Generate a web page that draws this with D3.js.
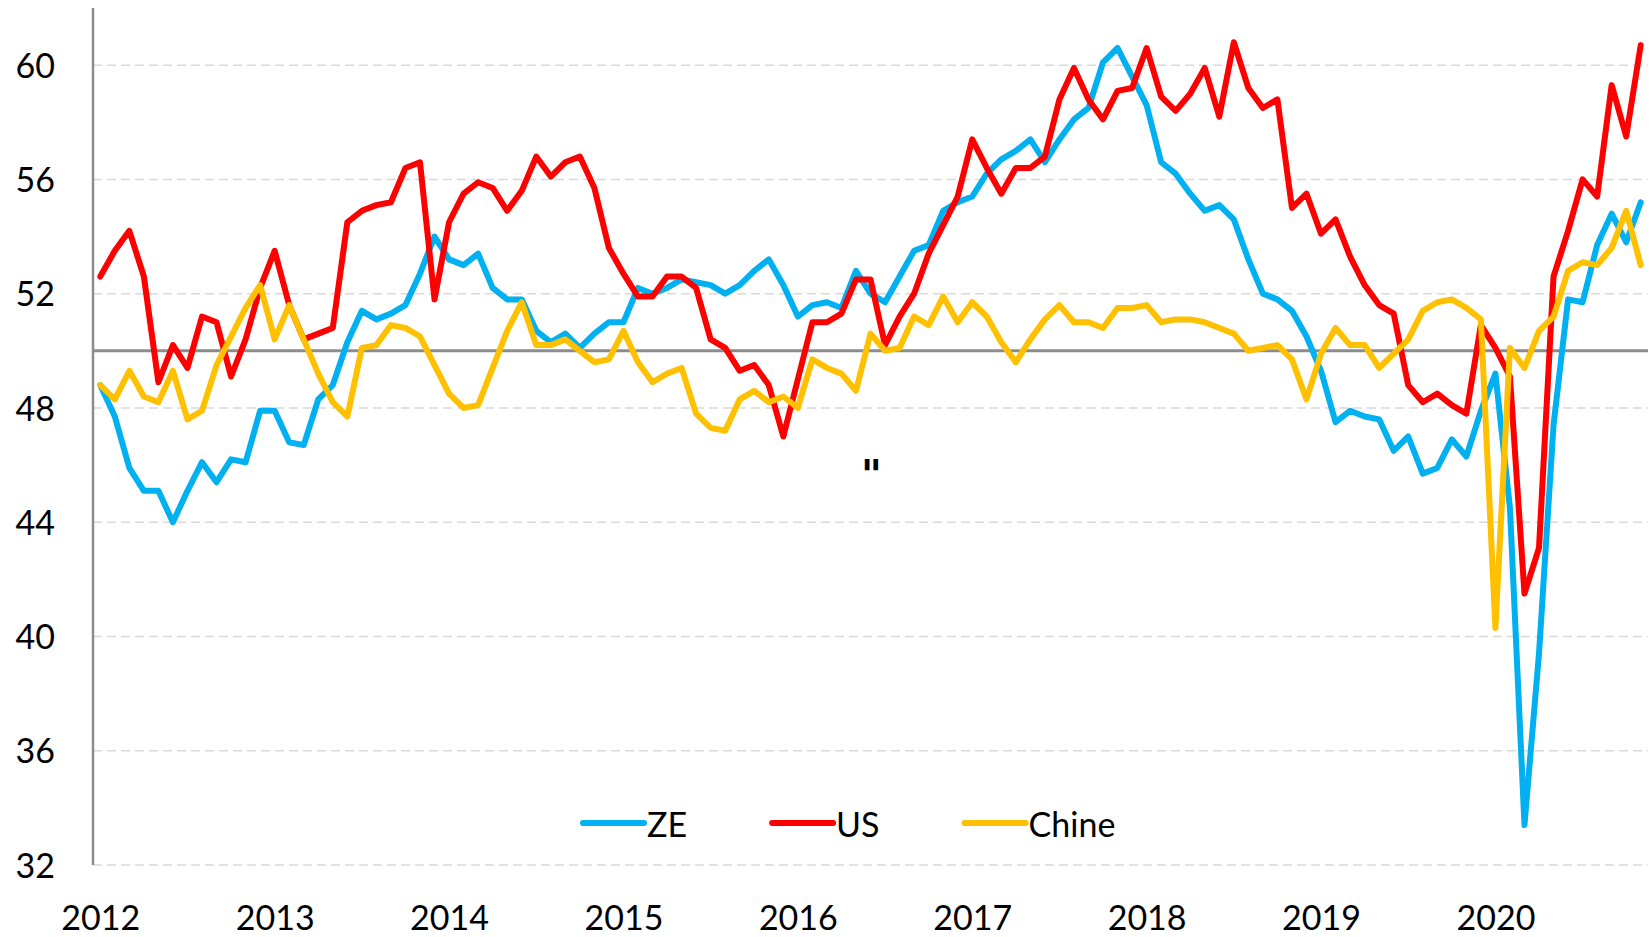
<!DOCTYPE html>
<html>
<head>
<meta charset="utf-8">
<script src="https://cdn.jsdelivr.net/npm/d3@7/dist/d3.min.js"></script>
<style>
    html, body { margin: 0; padding: 0; background: #fff; }
    svg { display: block; }
</style>
</head>
<body>
<div id="chart"></div>
<script>
var width = 1650;
var height = 937;

// monthly PMI, Feb 2012 .. Dec 2020
var ze = [48.8, 47.7, 45.9, 45.1, 45.1, 44.0, 45.1, 46.1, 45.4, 46.2, 46.1,
    47.9, 47.9, 46.8, 46.7, 48.3, 48.8, 50.3, 51.4, 51.1, 51.3, 51.6, 52.7,
    54.0, 53.2, 53.0, 53.4, 52.2, 51.8, 51.8, 50.7, 50.3, 50.6, 50.1, 50.6,
    51.0, 51.0, 52.2, 52.0, 52.2, 52.5, 52.4, 52.3, 52.0, 52.3, 52.8, 53.2,
    52.3, 51.2, 51.6, 51.7, 51.5, 52.8, 52.0, 51.7, 52.6, 53.5, 53.7, 54.9,
    55.2, 55.4, 56.2, 56.7, 57.0, 57.4, 56.6, 57.4, 58.1, 58.5, 60.1, 60.6,
    59.6, 58.6, 56.6, 56.2, 55.5, 54.9, 55.1, 54.6, 53.2, 52.0, 51.8, 51.4,
    50.5, 49.3, 47.5, 47.9, 47.7, 47.6, 46.5, 47.0, 45.7, 45.9, 46.9, 46.3,
    47.9, 49.2, 44.5, 33.4, 39.4, 47.4, 51.8, 51.7, 53.7, 54.8, 53.8, 55.2];

var us = [52.6, 53.5, 54.2, 52.6, 48.9, 50.2, 49.4, 51.2, 51.0, 49.1, 50.4,
    52.2, 53.5, 51.6, 50.4, 50.6, 50.8, 54.5, 54.9, 55.1, 55.2, 56.4, 56.6,
    51.8, 54.5, 55.5, 55.9, 55.7, 54.9, 55.6, 56.8, 56.1, 56.6, 56.8, 55.7,
    53.6, 52.7, 51.9, 51.9, 52.6, 52.6, 52.2, 50.4, 50.1, 49.3, 49.5, 48.8,
    47.0, 49.0, 51.0, 51.0, 51.3, 52.5, 52.5, 50.2, 51.2, 52.0, 53.4, 54.4,
    55.4, 57.4, 56.4, 55.5, 56.4, 56.4, 56.8, 58.8, 59.9, 58.8, 58.1, 59.1,
    59.2, 60.6, 58.9, 58.4, 59.0, 59.9, 58.2, 60.8, 59.2, 58.5, 58.8, 55.0,
    55.5, 54.1, 54.6, 53.3, 52.3, 51.6, 51.3, 48.8, 48.2, 48.5, 48.1, 47.8,
    50.9, 50.1, 49.1, 41.5, 43.1, 52.6, 54.2, 56.0, 55.4, 59.3, 57.5, 60.7];

var chine = [48.8, 48.3, 49.3, 48.4, 48.2, 49.3, 47.6, 47.9, 49.5, 50.5, 51.5,
    52.3, 50.4, 51.6, 50.4, 49.2, 48.2, 47.7, 50.1, 50.2, 50.9, 50.8, 50.5,
    49.5, 48.5, 48.0, 48.1, 49.4, 50.7, 51.7, 50.2, 50.2, 50.4, 50.0, 49.6,
    49.7, 50.7, 49.6, 48.9, 49.2, 49.4, 47.8, 47.3, 47.2, 48.3, 48.6, 48.2,
    48.4, 48.0, 49.7, 49.4, 49.2, 48.6, 50.6, 50.0, 50.1, 51.2, 50.9, 51.9,
    51.0, 51.7, 51.2, 50.3, 49.6, 50.4, 51.1, 51.6, 51.0, 51.0, 50.8, 51.5,
    51.5, 51.6, 51.0, 51.1, 51.1, 51.0, 50.8, 50.6, 50.0, 50.1, 50.2, 49.7,
    48.3, 49.9, 50.8, 50.2, 50.2, 49.4, 49.9, 50.4, 51.4, 51.7, 51.8, 51.5,
    51.1, 40.3, 50.1, 49.4, 50.7, 51.2, 52.8, 53.1, 53.0, 53.6, 54.9, 53.0];

var seriesNames = ["ZE", "US", "Chine"];
var seriesColors = ["#00B0F0", "#FF0000", "#FFC000"];
var years = ["2012", "2013", "2014", "2015", "2016", "2017", "2018", "2019", "2020"];
var yTicks = [32, 36, 40, 44, 48, 52, 56, 60];

var font = "Lato, 'Open Sans', sans-serif";

var svg = d3.select("#chart").append("svg")
    .attr("width", width)
    .attr("height", height);

var x = d3.scaleLinear().domain([-0.5, ze.length - 0.5]).range([93, 1648]);
var y = d3.scaleLinear().domain([32, 62]).range([865, 8]);

// dashed gridlines
svg.append("g").selectAll("line")
    .data(yTicks).enter().append("line")
    .attr("x1", x(-0.5)).attr("x2", x(ze.length - 0.5))
    .attr("y1", d => y(d)).attr("y2", d => y(d))
    .style("stroke", "#d9d9d9").style("stroke-width", "1.5px")
    .style("stroke-dasharray", "9,5");

// horizontal axis crosses at 50
svg.append("line")
    .attr("x1", x(-0.5)).attr("x2", x(ze.length - 0.5))
    .attr("y1", y(50)).attr("y2", y(50))
    .style("stroke", "#8c8c8c").style("stroke-width", "3px");

svg.append("line")
    .attr("x1", x(-0.5)).attr("x2", x(-0.5))
    .attr("y1", y(62)).attr("y2", y(32))
    .style("stroke", "#8c8c8c").style("stroke-width", "2.5px");

// y labels
var yAxis = svg.append("g")
    .attr("transform", "translate(" + x(-0.5) + ",0)")
    .call(d3.axisLeft(y).tickValues(yTicks).tickSize(0).tickPadding(38));
yAxis.select(".domain").remove();
yAxis.selectAll("text")
    .attr("dy", "0.36em")
    .attr("font-family", font).attr("font-size", "34px").attr("fill", "#000");

// year labels, one every 12 months
var xAxis = svg.append("g")
    .attr("transform", "translate(0," + y(32) + ")")
    .call(d3.axisBottom(x).tickValues(d3.range(0, ze.length, 12))
        .tickFormat((d, i) => years[i]).tickSize(0).tickPadding(41));
xAxis.select(".domain").remove();
xAxis.selectAll("text")
    .attr("font-family", font).attr("font-size", "34px").attr("fill", "#000");

var lineGenerator = d3.line()
    .x((d, i) => x(i))
    .y(d => y(d));

var allSeries = [ze, us, chine];
svg.append("g").selectAll("path")
    .data(allSeries).enter().append("path")
    .attr("d", d => lineGenerator(d))
    .style("fill", "none")
    .style("stroke", (d, i) => seriesColors[i])
    .style("stroke-width", "6px")
    .style("stroke-linejoin", "round")
    .style("stroke-linecap", "round");

// legend
var legend = svg.append("g");
var lx = 583;
var ly = 823;
seriesNames.forEach(function (name, i) {
    legend.append("line")
        .attr("x1", lx).attr("x2", lx + 61)
        .attr("y1", ly).attr("y2", ly)
        .style("stroke", seriesColors[i]).style("stroke-width", "6px")
        .style("stroke-linecap", "round");
    var t = legend.append("text")
        .attr("x", lx + 64).attr("y", ly + 14)
        .text(name)
        .attr("font-family", font).attr("font-size", "34px").attr("fill", "#000");
    lx = lx + 64 + t.node().getComputedTextLength() + 85;
});

// stray mark left in the original
svg.append("text")
    .attr("x", 871.5).attr("y", 489)
    .attr("text-anchor", "middle")
    .text('"')
    .attr("font-family", "'DejaVu Sans', sans-serif").attr("font-size", "40px")
    .attr("font-weight", "bold").attr("fill", "#000");
</script>
</body>
</html>
